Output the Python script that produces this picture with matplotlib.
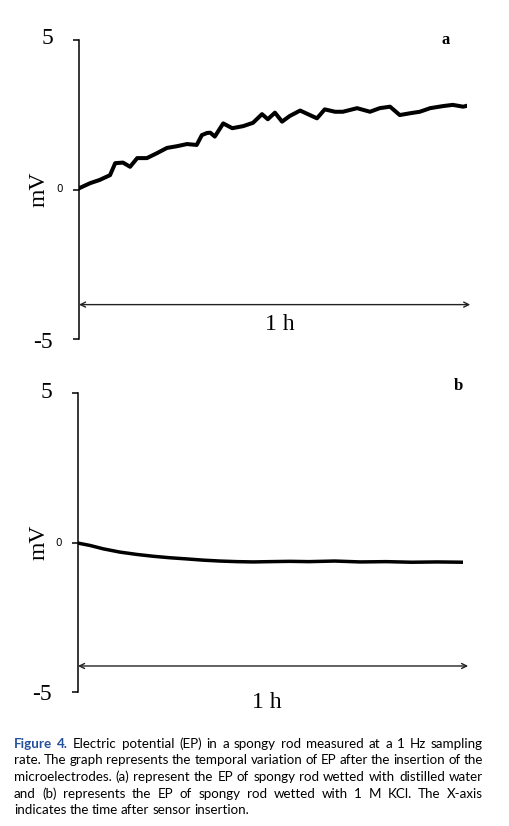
import matplotlib.pyplot as plt
from matplotlib.transforms import blended_transform_factory

# panel a : distilled water (time in minutes, EP in mV)
t_a = [0, 1.7, 3.2, 4.8, 5.6, 6.8, 7.9, 9.0, 10.5, 12.1, 13.6, 15.2, 16.7, 18.2,
       19.0, 19.8, 20.3, 21.0, 22.3, 23.7, 25.4, 26.9, 28.3, 29.2, 30.3, 31.4,
       32.6, 34.2, 35.4, 36.8, 38.0, 39.6, 40.8, 43.0, 45.0, 46.5, 48.1, 49.6,
       51.2, 52.7, 54.3, 56.3, 57.8, 59.4, 60]
v_a = [0.04, 0.21, 0.32, 0.48, 0.88, 0.90, 0.76, 1.05, 1.05, 1.22, 1.39, 1.45,
       1.52, 1.49, 1.82, 1.89, 1.90, 1.77, 2.21, 2.05, 2.12, 2.23, 2.52, 2.35,
       2.57, 2.27, 2.46, 2.64, 2.52, 2.38, 2.68, 2.60, 2.60, 2.72, 2.60, 2.72,
       2.77, 2.49, 2.55, 2.60, 2.72, 2.79, 2.83, 2.77, 2.80]

# panel b : 1 M KCl
t_b = [0, 1.9, 3.9, 6.5, 9.2, 11.7, 14.3, 17.0, 19.5, 22.1, 24.8, 27.3, 29.9,
       33, 36, 40, 44, 48, 52, 56, 60]
v_b = [-0.02, -0.10, -0.21, -0.32, -0.40, -0.46, -0.51, -0.55, -0.59, -0.62,
       -0.64, -0.65, -0.64, -0.63, -0.64, -0.62, -0.65, -0.64, -0.66, -0.65, -0.66]

yticks = [5, 0, -5]
ytick_labels = ['5', '0', '-5']

caption = [
    "Figure 4. Electric potential (EP) in a spongy rod measured at a 1 Hz sampling",
    "rate. The graph represents the temporal variation of EP after the insertion of the",
    "microelectrodes. (a) represent the EP of spongy rod wetted with distilled water",
    "and (b) represents the EP of spongy rod wetted with 1 M KCl. The X-axis",
    "indicates the time after sensor insertion.",
]

W, H = 510, 826
fig = plt.figure(figsize=(W / 100, H / 100), dpi=100)


def panel(left, right, top, bottom, t, v, lw, arrow_y, arrow_end, h_pos, tag, tag_pos):
    ax = fig.add_axes([left / W, 1 - bottom / H, (right - left) / W, (bottom - top) / H])
    ax.plot(t, v, color='black', lw=lw)
    ax.set_xlim(0, 60)
    ax.set_ylim(-5, 5)
    for s in ['top', 'right', 'bottom']:
        ax.spines[s].set_visible(False)
    ax.spines['left'].set_linewidth(1.1)
    ax.set_xticks([])
    ax.set_yticks(yticks)
    ax.set_yticklabels([])
    ax.tick_params(axis='y', direction='out', length=4, width=1.1)
    tr = blended_transform_factory(ax.transAxes, ax.transData)
    # tick labels: serif for 5/-5, small sans for 0
    for val, lab in zip(yticks, ytick_labels):
        if val == 0:
            ax.annotate(lab, xy=(0, val), xycoords=tr, xytext=(-16, 0),
                        textcoords='offset pixels', ha='right', va='center',
                        fontsize=7.5, family='DejaVu Sans')
        else:
            dy = -3 if val < 0 else 1
            ax.annotate(lab, xy=(0, val), xycoords=tr, xytext=(-26, dy),
                        textcoords='offset pixels', ha='right', va='center',
                        fontsize=17, family='Liberation Serif')
    ax.annotate('mV', xy=(0, 0), xycoords=tr, xytext=(-(left - 39), 0),
                textcoords='offset pixels', ha='center', va='center',
                rotation=90, fontsize=17, family='Liberation Serif')
    ax.annotate('', xy=(arrow_end, arrow_y), xytext=(0, arrow_y),
                arrowprops=dict(arrowstyle='<->', lw=1.0, color='#222222',
                                mutation_scale=9, shrinkA=0, shrinkB=0),
                annotation_clip=False)
    fig.text(h_pos[0] / W, 1 - h_pos[1] / H, '1 h', ha='center', va='center',
             fontsize=17, family='Liberation Serif')
    fig.text(tag_pos[0] / W, 1 - tag_pos[1] / H, tag, ha='center', va='center',
             fontsize=12, fontweight='bold', family='Liberation Serif')
    return ax


panel(79, 467, 40, 339, t_a, v_a, 2.9, -3.85, 60.5, (280, 324), 'a', (446, 40))
panel(78, 463, 393, 692, t_b, v_b, 2.5, -4.13, 60.8, (267, 702), 'b', (458, 386))

# justified caption
renderer = fig.canvas.get_renderer()
cap_font = dict(family='Lato', fontsize=9.6)
x0, x1 = 14, 483
baselines = [748, 764.5, 781, 797.5, 814]
blue = '#24509a'

for i, line in enumerate(caption):
    words = line.split(' ')
    texts = []
    for j, w in enumerate(words):
        kw = dict(cap_font)
        if i == 0 and j < 2:
            kw['fontweight'] = 'bold'
            kw['color'] = blue
        t = fig.text(0, 1 - baselines[i] / H, w, ha='left', va='baseline', **kw)
        texts.append(t)
    widths = [t.get_window_extent(renderer).width for t in texts]
    if i < len(caption) - 1:
        gap = (x1 - x0 - sum(widths)) / (len(words) - 1)
    else:
        gap = 3.0
    x = x0
    for t, w in zip(texts, widths):
        t.set_x(x / W)
        x += w + gap

fig.savefig('out.png', dpi=100)
